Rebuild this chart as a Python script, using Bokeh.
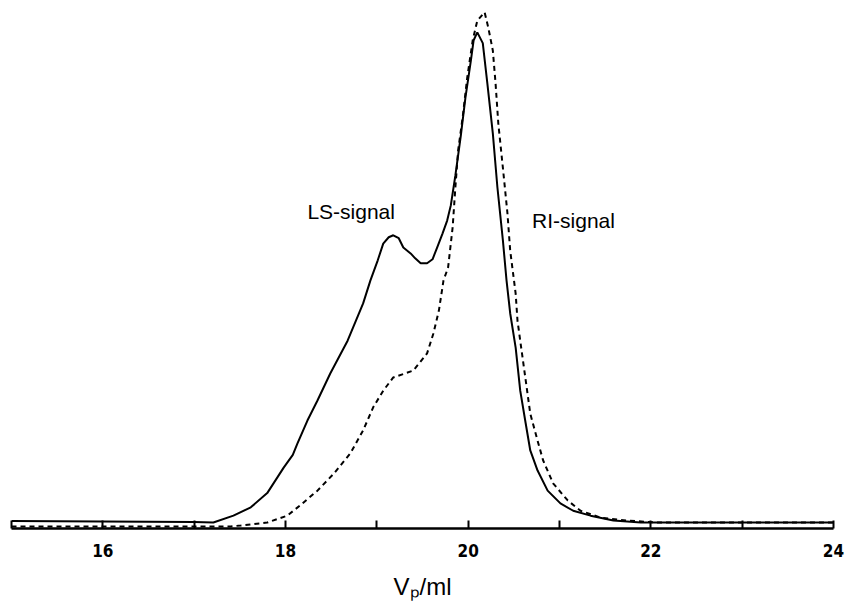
from bokeh.plotting import figure
from bokeh.models import Range1d, FixedTicker, Label
from bokeh.embed import file_html
from bokeh.resources import INLINE

# LS (light scattering) signal, elution volume (ml) vs relative intensity
ls_v = [15.0, 16.0, 17.0, 17.21, 17.43, 17.62, 17.80, 17.98, 18.08, 18.13, 18.24, 18.35,
        18.49, 18.68, 18.85, 18.93, 19.01, 19.07, 19.13, 19.18, 19.24, 19.29, 19.37,
        19.42, 19.48, 19.55, 19.61, 19.66, 19.72, 19.77, 19.81, 19.86, 19.92, 19.97,
        20.03, 20.06, 20.10, 20.16, 20.21, 20.27, 20.32, 20.38, 20.42, 20.46, 20.52,
        20.57, 20.63, 20.68, 20.76, 20.87, 21.01, 21.15, 21.34, 21.59, 21.89, 23.0, 24.0]
ls_y = [0.3, 0.2, 0.1, 0.0, 1.4, 3.1, 6.0, 11.2, 13.8, 16.1, 20.8, 24.9,
        30.4, 37.1, 44.7, 49.4, 53.5, 56.9, 58.2, 58.6, 58.0, 56.1, 54.9,
        53.9, 52.9, 52.9, 53.7, 56.1, 59.0, 61.6, 64.7, 70.8, 79.0, 86.7,
        94.3, 98.4, 100.0, 97.8, 89.6, 79.4, 68.4, 57.6, 49.4, 42.7, 35.7,
        26.9, 20.2, 14.7, 10.6, 6.5, 3.9, 2.4, 1.4, 0.4, 0.0, 0.0, 0.0]

# RI (refractive index) signal
ri_v = [15.0, 17.4, 17.51, 17.80, 18.02, 18.16, 18.35, 18.53, 18.71, 18.85, 18.96, 19.07,
        19.18, 19.40, 19.55, 19.62, 19.68, 19.73, 19.78, 19.83, 19.86, 19.89, 19.94, 19.99,
        20.05, 20.10, 20.18, 20.22, 20.27, 20.30, 20.33, 20.38, 20.43, 20.46, 20.52, 20.54,
        20.57, 20.63, 20.68, 20.76, 20.82, 20.93, 21.09, 21.23, 21.45, 21.74, 22.07, 24.0]
ri_y = [-0.8, -0.8, -0.6, 0.0, 1.4, 3.5, 6.5, 10.0, 14.1, 18.8, 23.5, 26.9,
        29.6, 31.0, 34.5, 38.6, 43.3, 49.4, 52.0, 60.2, 68.4, 75.9, 82.7, 90.8,
        98.4, 102.4, 104.1, 101.0, 96.3, 89.6, 81.4, 72.4, 63.1, 55.5, 46.7, 41.2,
        37.1, 29.0, 22.2, 16.7, 12.7, 8.0, 4.5, 2.4, 1.0, 0.4, 0.0, 0.0]

tick_values = [15, 16, 17, 18, 19, 20, 21, 22, 23, 24]
tick_labels = {15: "", 16: "16", 17: "", 18: "18", 19: "", 20: "20", 21: "", 22: "22", 23: "", 24: "24"}

p = figure(width=845, height=610, output_backend="svg", toolbar_location=None,
           x_range=Range1d(15, 24), y_range=Range1d(-1.22, 106.5),
           y_axis_location=None, min_border_left=11, min_border_right=12,
           min_border_top=0, min_border_bottom=82)
p.outline_line_color = None
p.grid.visible = False
p.background_fill_color = "white"
p.border_fill_color = "white"

p.line(ls_v, ls_y, line_color="black", line_width=2)
p.line(ri_v, ri_y, line_color="black", line_width=2, line_dash="5 4")

ax = p.xaxis[0]
ax.ticker = FixedTicker(ticks=tick_values)
ax.major_label_overrides = tick_labels
ax.minor_tick_line_color = None
ax.major_tick_in = 8
ax.major_tick_out = 0
ax.major_tick_line_width = 2
ax.axis_line_width = 2.5
ax.axis_line_color = "black"
ax.major_label_standoff = 15
ax.major_label_text_font = "DejaVu Sans Condensed"
ax.major_label_text_font_style = "bold"
ax.major_label_text_font_size = "17px"
ax.major_label_text_color = "black"
ax.axis_label = "Vₚ/ml"
ax.axis_label_text_font = "Liberation Sans"
ax.axis_label_text_font_style = "normal"
ax.axis_label_text_font_size = "24px"
ax.axis_label_standoff = 13
ax.axis_label_text_color = "black"

p.add_layout(Label(x=18.24, y=61.2, text="LS-signal", text_font="Liberation Sans",
                   text_font_size="21px", text_color="black"))
p.add_layout(Label(x=20.70, y=59.2, text="RI-signal", text_font="Liberation Sans",
                   text_font_size="21px", text_color="black"))

open("out.html", "w").write(file_html(p, INLINE))
